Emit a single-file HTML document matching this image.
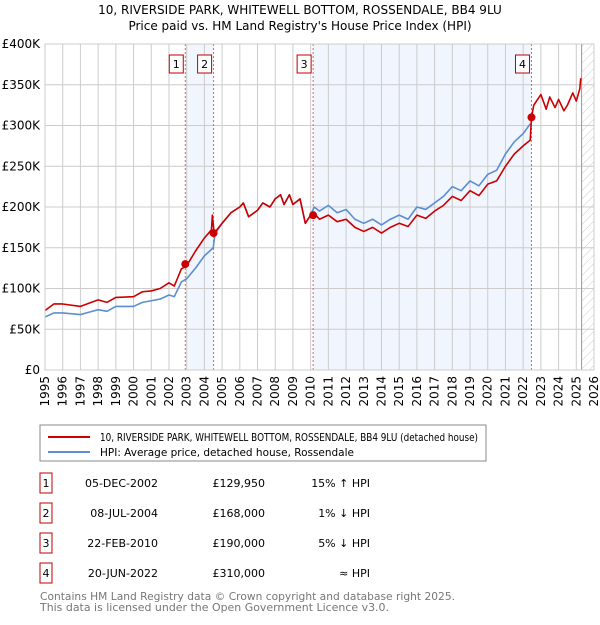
<!DOCTYPE html>
<html><head><meta charset="utf-8"><style>
body{margin:0;background:#fff;font-family:"Liberation Sans","DejaVu Sans",sans-serif;}
#wrap{position:relative;width:600px;height:620px;}
text{font-family:"DejaVu Sans","Liberation Sans",sans-serif;}
</style></head><body><div id="wrap">
<svg id="c" width="600" height="620">
<text x="300" y="14" text-anchor="middle" font-size="12">10, RIVERSIDE PARK, WHITEWELL BOTTOM, ROSSENDALE, BB4 9LU</text>
<text x="300" y="30" text-anchor="middle" font-size="12">Price paid vs. HM Land Registry's House Price Index (HPI)</text>
<g id="plot"></g>
<rect x="40" y="425" width="446" height="36" fill="#fff" stroke="#888"/>
<line x1="48" y1="437" x2="90" y2="437" stroke="#cc0000" stroke-width="2"/>
<text x="100" y="441" font-size="11" textLength="378" lengthAdjust="spacingAndGlyphs">10, RIVERSIDE PARK, WHITEWELL BOTTOM, ROSSENDALE, BB4 9LU (detached house)</text>
<line x1="48" y1="452" x2="90" y2="452" stroke="#5b8fd0" stroke-width="2"/>
<text x="100" y="456" font-size="11" textLength="254" lengthAdjust="spacingAndGlyphs">HPI: Average price, detached house, Rossendale</text>
<g id="table" font-size="11"></g>
<text x="40" y="600" font-size="11" fill="#777" textLength="415" lengthAdjust="spacingAndGlyphs">Contains HM Land Registry data © Crown copyright and database right 2025.</text>
<text x="40" y="611" font-size="11" fill="#777" textLength="349" lengthAdjust="spacingAndGlyphs">This data is licensed under the Open Government Licence v3.0.</text>
</svg>
<script>
const yTicks=[0,50,100,150,200,250,300,350,400];
const years=[1995,1996,1997,1998,1999,2000,2001,2002,2003,2004,2005,2006,2007,2008,2009,2010,2011,2012,2013,2014,2015,2016,2017,2018,2019,2020,2021,2022,2023,2024,2025,2026];
const hpiT=[1995,1995.5,1996,1997,1997.5,1998,1998.5,1999,2000,2000.5,2001,2001.5,2002,2002.3,2002.7,2003,2003.5,2004,2004.5,2004.6,2005,2005.5,2006,2006.2,2006.5,2007,2007.3,2007.7,2008,2008.3,2008.5,2008.8,2009,2009.4,2009.7,2010,2010.2,2010.5,2011,2011.5,2012,2012.5,2013,2013.5,2014,2014.5,2015,2015.5,2016,2016.5,2017,2017.5,2018,2018.5,2019,2019.5,2020,2020.5,2021,2021.5,2022,2022.4];
const hpiV=[65,70,70,68,71,74,72,78,78,83,85,87,92,90,108,112,125,140,150,167,180,193,200,205,188,196,205,200,210,215,203,215,203,210,180,190,200,195,202,193,197,185,180,185,178,185,190,185,200,197,205,213,225,220,232,226,240,245,265,280,290,302];
const redT=[1995,1995.5,1996,1997,1997.5,1998,1998.5,1999,2000,2000.5,2001,2001.5,2002,2002.3,2002.7,2003,2003.5,2004,2004.4,2004.45,2004.55,2005,2005.5,2006,2006.2,2006.5,2007,2007.3,2007.7,2008,2008.3,2008.5,2008.8,2009,2009.4,2009.7,2010,2010.2,2010.5,2011,2011.5,2012,2012.5,2013,2013.5,2014,2014.5,2015,2015.5,2016,2016.5,2017,2017.5,2018,2018.5,2019,2019.5,2020,2020.5,2021,2021.5,2022,2022.4,2022.47,2022.6,2023,2023.3,2023.5,2023.8,2024,2024.3,2024.5,2024.8,2025,2025.2,2025.25];
const redV=[73,81,81,78,82,86,83,89,90,96,97,100,107,103,124,128,146,162,172,190,168,180,193,200,205,188,196,205,200,210,215,203,215,203,210,180,190,192,185,190,182,185,175,170,175,168,175,180,176,190,186,195,202,213,208,220,214,228,232,250,265,275,282,310,325,338,320,335,322,332,318,325,340,330,345,358];
const sales=[[2002.92,129.95,"1","05-DEC-2002","£129,950","15% ↑ HPI"],[2004.52,168,"2","08-JUL-2004","£168,000","1% ↓ HPI"],[2010.14,190,"3","22-FEB-2010","£190,000","5% ↓ HPI"],[2022.47,310,"4","20-JUN-2022","£310,000","≈ HPI"]];
const NS="http://www.w3.org/2000/svg";
const X0=45,X1=594,Y0=370,Y1=44;
const sx=t=>X0+(t-1995)/(2026-1995)*(X1-X0);
const sy=v=>Y0-v/400*(Y0-Y1);
const g=document.getElementById('plot');
function mk(tag,at,parent){const e=document.createElementNS(NS,tag);for(const k in at)e.setAttribute(k,at[k]);(parent||g).appendChild(e);return e;}
let r=mk('rect',{x:sx(sales[0][0]),y:Y1,width:sx(sales[1][0])-sx(sales[0][0]),height:Y0-Y1,fill:'#eef3fc',opacity:0.8});


r=mk('rect',{x:sx(sales[2][0]),y:Y1,width:sx(sales[3][0])-sx(sales[2][0]),height:Y0-Y1,fill:'#eef3fc',opacity:0.8});


const defs=mk('defs',{});
const pat=mk('pattern',{id:'h',width:6,height:6,patternUnits:'userSpaceOnUse',patternTransform:'rotate(45)'},defs);
mk('line',{x1:0,y1:0,x2:0,y2:6,stroke:'#ccc','stroke-width':1},pat);
r=mk('rect',{x:sx(2025.3),y:Y1,width:X1-sx(2025.3),height:Y0-Y1,fill:'url(#h)'});


yTicks.forEach(v=>{const l=mk('line',{x1:X0,x2:X1,y1:sy(v),y2:sy(v),stroke:'#ccc'});


const t=mk('text',{x:X0-5,y:sy(v)+4,'text-anchor':'end','font-size':12});t.textContent=v===0?'£0':'£'+v+'K';

});
years.forEach(y=>{const l=mk('line',{x1:sx(y),x2:sx(y),y1:Y1,y2:Y0,stroke:'#ccc'});


const t=mk('text',{x:0,y:0,'text-anchor':'end','font-size':12,transform:`translate(${sx(y)+4},${Y0+6}) rotate(-90)`});t.textContent=y;

});
mk('line',{x1:sx(2025.3),x2:sx(2025.3),y1:Y1,y2:Y0,stroke:'#999'});
sales.forEach(s=>{const l=mk('line',{x1:sx(s[0]),x2:sx(s[0]),y1:Y1,y2:Y0,stroke:'#e06060','stroke-dasharray':'2,2'});


const bx=mk('rect',{x:sx(s[0])-16,y:55,width:14,height:18,fill:'#fff',stroke:'#b00'});


const t=mk('text',{x:sx(s[0])-9,y:68,'text-anchor':'middle','font-size':11});t.textContent=s[2];

});
function line(T,V,col,name){const p=mk('polyline',{points:T.map((t,i)=>sx(t)+','+sy(V[i])).join(' '),fill:'none',stroke:col,'stroke-width':1.6,'stroke-linejoin':'round'});

}
line(hpiT,hpiV,'#5b8fd0','hpi-line');
line(redT,redV,'#cc0000','price-paid-line');
sales.forEach(s=>{const c=mk('circle',{cx:sx(s[0]),cy:sy(s[1]),r:4,fill:'#cc0000'});

});
mk('rect',{x:X0,y:Y1,width:X1-X0,height:Y0-Y1,fill:'none',stroke:'#ccc'});
const tb=document.getElementById('table');
sales.forEach((s,i)=>{const y=483+i*30;
const b=mk('rect',{x:40,y:y-10,width:12,height:20,fill:'#fff',stroke:'#b00'},tb);


[[46,s[2],'middle'],[158,s[3],'end'],[265,s[4],'end'],[370,s[5],'end']].forEach(([x,txt,a],j)=>{const t=mk('text',{x:x,y:y+4,'text-anchor':a,'font-size':11},tb);t.textContent=txt;

});});
</script>
</div></body></html>
